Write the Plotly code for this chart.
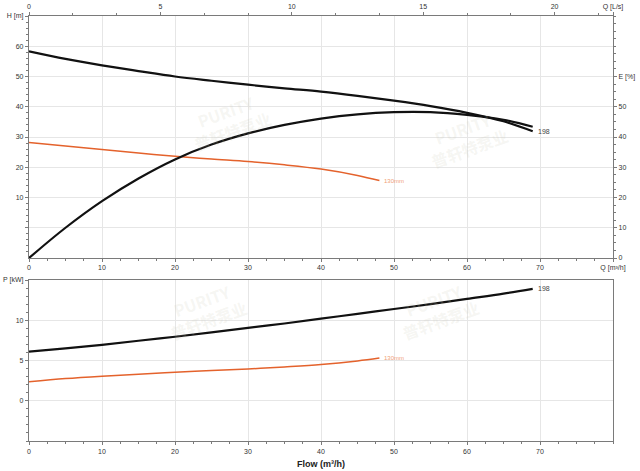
import plotly.graph_objects as go

# ---- data ----
Q_198 = [0, 5, 10, 15, 20, 25, 30, 35, 40, 45, 50, 55, 60, 65, 69]
H_198 = [58.3, 55.8, 53.7, 51.8, 50.0, 48.6, 47.3, 46.1, 45.0, 43.6, 42.0, 40.2, 38.0, 35.2, 31.9]
E_198 = [0, 10.0, 18.8, 26.3, 32.6, 37.5, 41.2, 44.0, 46.1, 47.5, 48.2, 48.2, 47.3, 45.7, 43.4]
P_198 = [6.1, 6.5, 6.95, 7.45, 7.95, 8.5, 9.05, 9.6, 10.2, 10.8, 11.4, 12.0, 12.65, 13.3, 13.9]

Q_130 = [0, 5, 10, 15, 20, 25, 30, 35, 40, 45, 48]
H_130 = [28.2, 27.0, 25.9, 24.7, 23.6, 22.7, 21.9, 20.8, 19.4, 17.3, 15.6]
P_130 = [2.35, 2.75, 3.05, 3.3, 3.55, 3.75, 3.95, 4.2, 4.5, 4.95, 5.3]

label_198 = "198"
label_130 = "130mm"

q_ticks = [0, 10, 20, 30, 40, 50, 60, 70]
qls_ticks = [0, 5, 10, 15, 20]
h_ticks = [0, 10, 20, 30, 40, 50, 60]
e_ticks = [0, 10, 20, 30, 40, 50]
p_ticks = [0, 5, 10]

Q_MAX = 80
QLS_MAX = Q_MAX / 3.6

BLACK = "#111111"
ORANGE = "#e4622c"
GRID = "#e6e6e6"
AXIS = "#7a7a7a"
TXT = "#333333"
FONT = "Liberation Sans"

fig = go.Figure()

fig.add_trace(go.Scatter(x=Q_198, y=H_198, mode="lines", line=dict(color=BLACK, width=2.2, shape="spline"),
                         xaxis="x", yaxis="y", showlegend=False))
fig.add_trace(go.Scatter(x=Q_130, y=H_130, mode="lines", line=dict(color=ORANGE, width=1.5, shape="spline"),
                         xaxis="x", yaxis="y", showlegend=False))
fig.add_trace(go.Scatter(x=Q_198, y=E_198, mode="lines", line=dict(color=BLACK, width=2.2, shape="spline"),
                         xaxis="x", yaxis="y2", showlegend=False))
# invisible trace to activate top L/s axis
fig.add_trace(go.Scatter(x=[0, QLS_MAX], y=[None, None], mode="lines", xaxis="x2", yaxis="y",
                         showlegend=False, hoverinfo="skip"))
fig.add_trace(go.Scatter(x=Q_198, y=P_198, mode="lines", line=dict(color=BLACK, width=2.2, shape="spline"),
                         xaxis="x3", yaxis="y3", showlegend=False))
fig.add_trace(go.Scatter(x=Q_130, y=P_130, mode="lines", line=dict(color=ORANGE, width=1.5, shape="spline"),
                         xaxis="x3", yaxis="y3", showlegend=False))

tickfont = dict(family=FONT, size=7, color=TXT)
top_dom = [0.4306, 1.0]
bot_dom = [0.0, 0.3788]

common_x = dict(range=[0, Q_MAX], showline=True, linecolor=AXIS, linewidth=1.2, showgrid=True,
                gridcolor=GRID, gridwidth=1, zeroline=False, ticks="outside", ticklen=3,
                tickcolor=AXIS, tickfont=tickfont, automargin=False,
                minor=dict(dtick=2.5, ticks="outside", ticklen=2, tickcolor=AXIS, showgrid=False))

fig.update_layout(
    width=640, height=471,
    margin=dict(l=29, r=27, t=16, b=30),
    paper_bgcolor="white", plot_bgcolor="white",
    xaxis=dict(common_x, anchor="y", domain=[0, 1],
               tickmode="array", tickvals=q_ticks + [Q_MAX],
               ticktext=[str(v) for v in q_ticks] + ["Q [m³/h]"]),
    xaxis2=dict(range=[0, QLS_MAX], overlaying="x", side="top", anchor="y", automargin=False,
                showline=True, linecolor=AXIS, linewidth=1.2, showgrid=False, zeroline=False,
                ticks="outside", ticklen=3, tickcolor=AXIS, tickfont=tickfont,
                tickmode="array", tickvals=qls_ticks + [QLS_MAX],
                ticktext=[str(v) for v in qls_ticks] + ["Q [L/s]"],
                minor=dict(dtick=5 / 3, ticks="outside", ticklen=2, tickcolor=AXIS)),
    yaxis=dict(domain=top_dom, anchor="x", range=[-10, 70], showline=True, linecolor=AXIS, linewidth=1.2,
               showgrid=True, gridcolor=GRID, zeroline=False, ticks="outside", ticklen=3, tickcolor=AXIS,
               tickfont=tickfont, tickmode="array", tickvals=h_ticks + [70], automargin=False,
               ticktext=[""] + [str(v) for v in h_ticks[1:]] + ["H [m]"],
               minor=dict(tickvals=[v for v in range(-10, 70, 2) if v % 10], ticks="outside",
                          ticklen=2, tickcolor=AXIS, showgrid=False)),
    yaxis2=dict(overlaying="y", side="right", anchor="x", range=[0, 80], showline=True, linecolor=AXIS,
                linewidth=1.2, showgrid=False, zeroline=False, ticks="outside", ticklen=3, tickcolor=AXIS,
                tickfont=tickfont, tickmode="array", tickvals=e_ticks + [60], automargin=False,
                ticktext=[str(v) for v in e_ticks] + ["E [%]"],
                minor=dict(dtick=2.5, ticks="outside", ticklen=2, tickcolor=AXIS)),
    xaxis3=dict(common_x, anchor="y3", domain=[0, 1], mirror=True,
                tickmode="array", tickvals=q_ticks, ticktext=[str(v) for v in q_ticks]),
    yaxis3=dict(domain=bot_dom, anchor="x3", range=[-5, 15], showline=True, linecolor=AXIS, linewidth=1.2,
                mirror=True, showgrid=True, gridcolor=GRID, zeroline=False, ticks="outside", ticklen=3,
                tickcolor=AXIS, tickfont=tickfont, tickmode="array", tickvals=p_ticks + [15],
                ticktext=[str(v) for v in p_ticks] + ["P [kW]"], automargin=False,
                minor=dict(dtick=1, ticks="outside", ticklen=2, tickcolor=AXIS, showgrid=False)),
)

# curve labels
anns = [
    dict(x=Q_198[-1], y=H_198[-1], xref="x", yref="y", text=label_198,
         font=dict(family=FONT, size=7, color="#444444")),
    dict(x=Q_130[-1], y=H_130[-1], xref="x", yref="y", text=label_130,
         font=dict(family=FONT, size=6, color="#f0a078")),
    dict(x=Q_198[-1], y=P_198[-1], xref="x3", yref="y3", text=label_198,
         font=dict(family=FONT, size=7, color="#444444")),
    dict(x=Q_130[-1], y=P_130[-1], xref="x3", yref="y3", text=label_130,
         font=dict(family=FONT, size=6, color="#f0a078")),
]
for a in anns:
    fig.add_annotation(showarrow=False, xanchor="left", yanchor="middle", xshift=3, **a)

# axis title
fig.add_annotation(x=0.5, y=-0.054, xref="paper", yref="paper", showarrow=False,
                   text="<b>Flow (m³/h)</b>", font=dict(family=FONT, size=9, color="#222222"),
                   xanchor="center", yanchor="middle")

# faint watermarks
for (wx, wy) in [(0.26, 0.84), (0.83, 0.80), (0.22, 0.22), (0.78, 0.22)]:
    fig.add_annotation(x=wx, y=wy, xref="paper", yref="paper", showarrow=False,
                       text="<b>PURITY</b><br><b>普轩特泵业</b>", textangle=-20,
                       font=dict(family="Noto Sans CJK SC", size=16, color="rgba(200,200,180,0.18)"))

fig.write_html("out.html", config={"displayModeBar": False},
               post_script="document.body.style.margin='0';")
